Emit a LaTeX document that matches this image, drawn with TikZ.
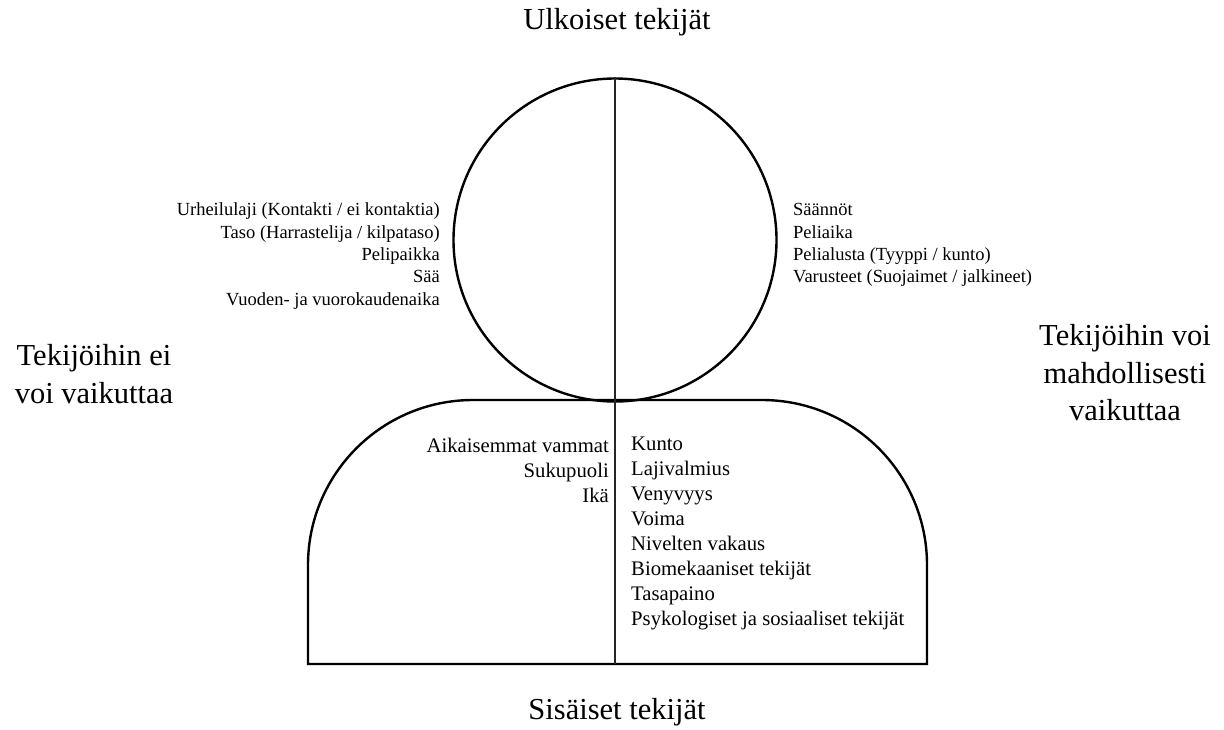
\documentclass[tikz,border=0pt]{standalone}
\usepackage{fontspec}
\setmainfont{Liberation Serif}
\begin{document}
\begin{tikzpicture}[x=1pt,y=-1pt,
  big/.style={font=\fontsize{30.5}{37.5}\selectfont, inner sep=0pt, align=center},
  small/.style={font=\fontsize{18.5}{22.3}\selectfont, inner sep=0pt},
  smallb/.style={font=\fontsize{20.7}{25}\selectfont, inner sep=0pt},
  outline/.style={draw=black, line width=2.4pt},
  divider/.style={draw=black!85, line width=1.3pt}]
\useasboundingbox (0,0) rectangle (1224,729);
% head
\node[circle, outline, minimum size=323pt, inner sep=0pt] (head) at (615,240) {};
% body
\coordinate (bl) at (308,664);
\coordinate (br) at (927,664);
\coordinate (bb) at (615,664);
\draw[outline, line join=miter] (bl) -- (308,565) arc[start angle=180, end angle=270, radius=165]
  -- (762,400) arc[start angle=270, end angle=360, radius=165] -- (br) -- cycle;
% divider
\draw[divider] (head.north) -- (bb);
% titles
\node[big] (ulk) at (617,22) {Ulkoiset tekijät};
\node[big] (sis) at (617,712) {Sisäiset tekijät};
\node[big] (ei) at (94,374) {Tekijöihin ei\\voi vaikuttaa};
\node[big] (voi) at (1125,373) {Tekijöihin voi\\mahdollisesti\\vaikuttaa};
% lists
\node[small, align=right, anchor=east] (tl) at (440,256) {Urheilulaji (Kontakti / ei kontaktia)\\Taso (Harrastelija / kilpataso)\\Pelipaikka\\Sää\\Vuoden- ja vuorokaudenaika};
\node[small, align=left, anchor=west] (tr) at (793,245) {Säännöt\\Peliaika\\Pelialusta (Tyyppi / kunto)\\Varusteet (Suojaimet / jalkineet)};
\node[smallb, align=right, anchor=east] (bl2) at (609,470) {Aikaisemmat vammat\\Sukupuoli\\Ikä};
\node[smallb, align=left, anchor=west] (br2) at (631,533) {Kunto\\Lajivalmius\\Venyvyys\\Voima\\Nivelten vakaus\\Biomekaaniset tekijät\\Tasapaino\\Psykologiset ja sosiaaliset tekijät};
\end{tikzpicture}
\end{document}
